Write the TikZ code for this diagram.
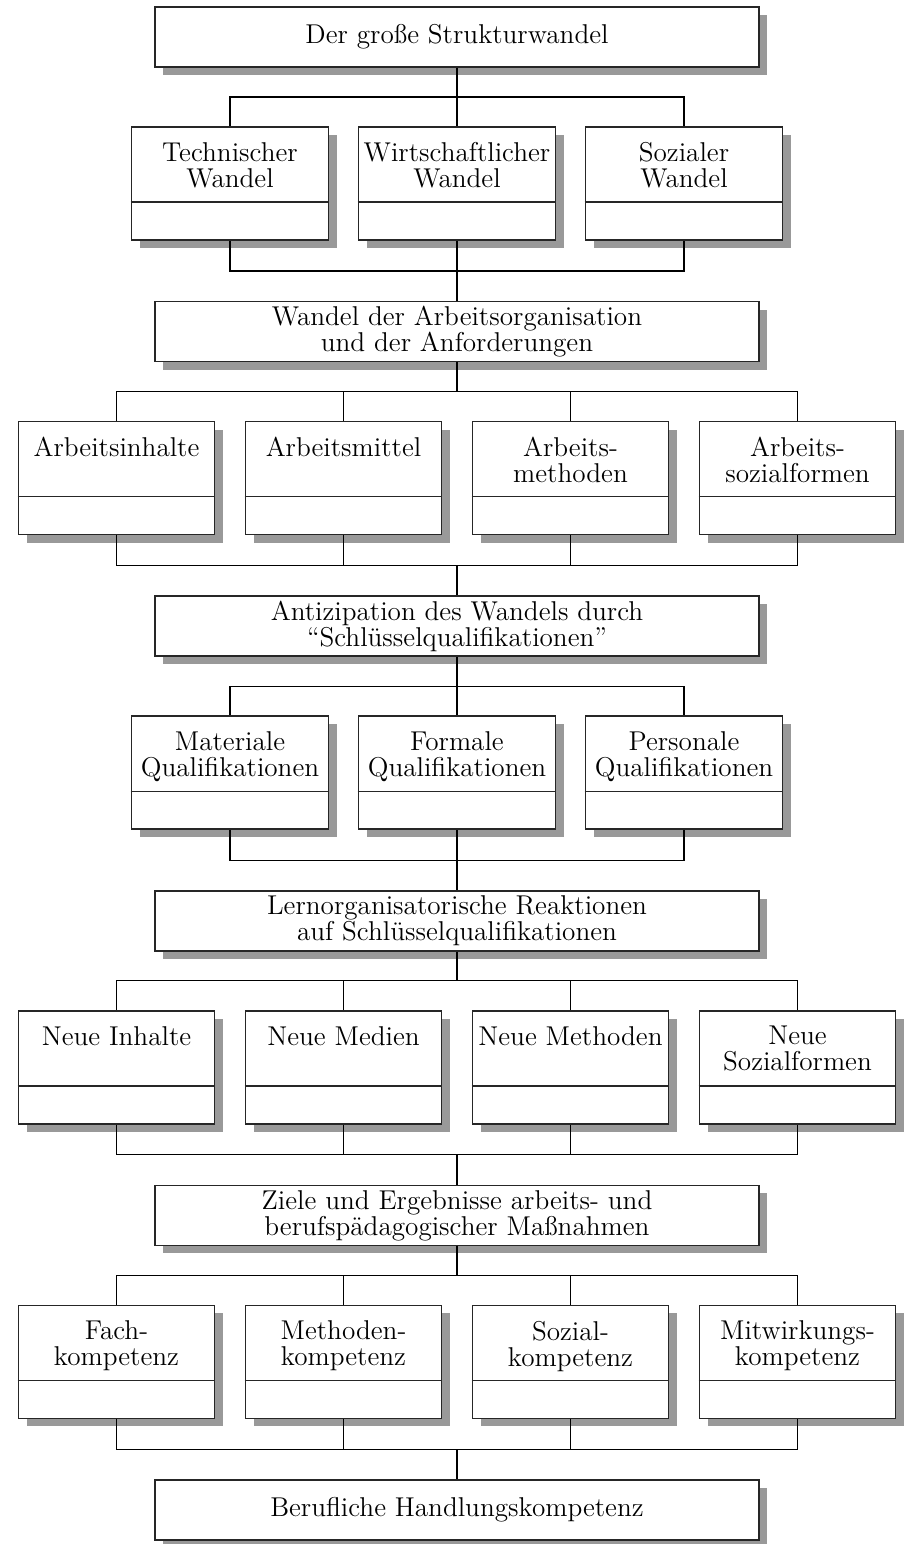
\documentclass[tikz,border=0pt]{standalone}
\usepackage{fontspec}
\usetikzlibrary{shadows,calc}
\begin{document}
\begin{tikzpicture}[x=0.5pt,y=-0.5pt,
  boxbase/.style={draw=black!85,line width=0.85pt,fill=white,inner sep=0pt,
    drop shadow={shadow xshift=4pt,shadow yshift=-4pt,fill=black!40,opacity=1}},
  mainbox/.style={boxbase,minimum width=302pt,minimum height=30pt,align=center,
    font=\fontsize{13.6pt}{13pt}\selectfont},
  smallbox/.style={boxbase,minimum width=98pt,minimum height=56.5pt},
  smallboxw/.style={boxbase,minimum width=98.5pt,minimum height=56.5pt},
  label/.style={anchor=north,inner sep=0pt,align=center,
    font=\fontsize{13.6pt}{13pt}\selectfont},
  divider/.style={line width=0.7pt,draw=black!85},
  conn/.style={line width=0.6pt}]
\useasboundingbox (0,0) rectangle (914,1544);

% ---- main boxes
\node[mainbox] (c0) at (457,37)     {Der große Strukturwandel};
\node[mainbox] (c1) at (457,331.6)  {Wandel der Arbeitsorganisation\\und der Anforderungen};
\node[mainbox] (c2) at (457,626.2)  {Antizipation des Wandels durch\\“Schlüsselqualifikationen”};
\node[mainbox] (c3) at (457,920.8)  {Lernorganisatorische Reaktionen\\auf Schlüsselqualifikationen};
\node[mainbox] (c4) at (457,1215.4) {Ziele und Ergebnisse arbeits- und\\berufspädagogischer Maßnahmen};
\node[mainbox] (c5) at (457,1510)   {Berufliche Handlungskompetenz};

% ---- row 1 (3 boxes)
\node[smallboxw] (a1) at (230,183.5) {};
\node[smallboxw] (a2) at (457,183.5) {};
\node[smallboxw] (a3) at (684,183.5) {};
% ---- row 2 (4 boxes)
\node[smallbox] (b1) at (116.5,478.1) {};
\node[smallbox] (b2) at (343.5,478.1) {};
\node[smallbox] (b3) at (570.5,478.1) {};
\node[smallbox] (b4) at (797.5,478.1) {};
% ---- row 3 (3 boxes)
\node[smallboxw] (m1) at (230,772.7) {};
\node[smallboxw] (m2) at (457,772.7) {};
\node[smallboxw] (m3) at (684,772.7) {};
% ---- row 4 (4 boxes)
\node[smallbox] (n1) at (116.5,1067.3) {};
\node[smallbox] (n2) at (343.5,1067.3) {};
\node[smallbox] (n3) at (570.5,1067.3) {};
\node[smallbox] (n4) at (797.5,1067.3) {};
% ---- row 5 (4 boxes)
\node[smallbox] (k1) at (116.5,1361.9) {};
\node[smallbox] (k2) at (343.5,1361.9) {};
\node[smallbox] (k3) at (570.5,1361.9) {};
\node[smallbox] (k4) at (797.5,1361.9) {};

% dividers and labels
\foreach \b/\t in {a1/{Technischer\\Wandel},a2/{Wirtschaftlicher\\Wandel},a3/{Sozialer\\Wandel},
  b1/{Arbeitsinhalte},b2/{Arbeitsmittel},b3/{Arbeits-\\methoden},b4/{Arbeits-\\sozialformen},
  m1/{Materiale\\Qualifikationen},m2/{Formale\\Qualifikationen},m3/{Personale\\Qualifikationen},
  n1/{Neue Inhalte},n2/{Neue Medien},n3/{Neue Methoden},n4/{Neue\\Sozialformen},
  k1/{Fach-\\kompetenz},k2/{Methoden-\\kompetenz},k3/{Sozial-\\kompetenz},k4/{Mitwirkungs-\\kompetenz}}{
  \draw[divider] ($(\b.north west)+(0,76)$) -- ($(\b.north east)+(0,76)$);
  \node[label] (\b t) at ($(\b.north)+(0,16)$) {\t};
}

% ---- bar coordinates
\coordinate (u1) at (457,97);
\coordinate (d1) at (457,271);
\coordinate (u2) at (457,391.6);
\coordinate (d2) at (457,565.6);
\coordinate (u3) at (457,686.2);
\coordinate (d3) at (457,860.2);
\coordinate (u4) at (457,980.8);
\coordinate (d4) at (457,1154.8);
\coordinate (u5) at (457,1275.4);
\coordinate (d5) at (457,1449.4);

% ---- connectors
\draw[conn] (c0.south) -- (u1);
\draw[conn] (a1.north) -- (a1.north|-u1) -- (a3.north|-u1) -- (a3.north);
\draw[conn] (u1) -- (a2.north);
\draw[conn] (a1.south) -- (a1.south|-d1) -- (a3.south|-d1) -- (a3.south);
\draw[conn] (a2.south) -- (d1) -- (c1.north);

\draw[conn] (c1.south) -- (u2);
\draw[conn] (b1.north) -- (b1.north|-u2) -- (b4.north|-u2) -- (b4.north);
\draw[conn] (b2.north) -- (b2.north|-u2);
\draw[conn] (b3.north) -- (b3.north|-u2);
\draw[conn] (b1.south) -- (b1.south|-d2) -- (b4.south|-d2) -- (b4.south);
\draw[conn] (b2.south) -- (b2.south|-d2);
\draw[conn] (b3.south) -- (b3.south|-d2);
\draw[conn] (d2) -- (c2.north);

\draw[conn] (c2.south) -- (u3);
\draw[conn] (m1.north) -- (m1.north|-u3) -- (m3.north|-u3) -- (m3.north);
\draw[conn] (u3) -- (m2.north);
\draw[conn] (m1.south) -- (m1.south|-d3) -- (m3.south|-d3) -- (m3.south);
\draw[conn] (m2.south) -- (d3) -- (c3.north);

\draw[conn] (c3.south) -- (u4);
\draw[conn] (n1.north) -- (n1.north|-u4) -- (n4.north|-u4) -- (n4.north);
\draw[conn] (n2.north) -- (n2.north|-u4);
\draw[conn] (n3.north) -- (n3.north|-u4);
\draw[conn] (n1.south) -- (n1.south|-d4) -- (n4.south|-d4) -- (n4.south);
\draw[conn] (n2.south) -- (n2.south|-d4);
\draw[conn] (n3.south) -- (n3.south|-d4);
\draw[conn] (d4) -- (c4.north);

\draw[conn] (c4.south) -- (u5);
\draw[conn] (k1.north) -- (k1.north|-u5) -- (k4.north|-u5) -- (k4.north);
\draw[conn] (k2.north) -- (k2.north|-u5);
\draw[conn] (k3.north) -- (k3.north|-u5);
\draw[conn] (k1.south) -- (k1.south|-d5) -- (k4.south|-d5) -- (k4.south);
\draw[conn] (k2.south) -- (k2.south|-d5);
\draw[conn] (k3.south) -- (k3.south|-d5);
\draw[conn] (d5) -- (c5.north);
\end{tikzpicture}
\end{document}
